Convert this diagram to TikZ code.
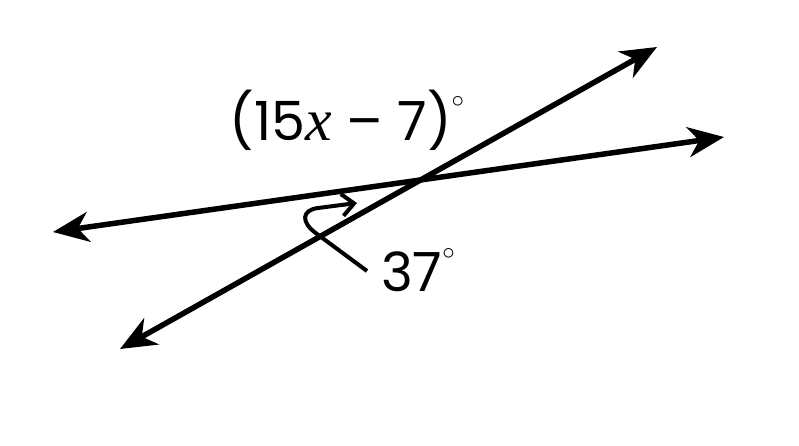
\documentclass[tikz,border=0pt]{standalone}
\usepackage{fontspec}
\setmainfont{Poppins}
\newfontfamily\serifit{Liberation Serif}
\usetikzlibrary{arrows.meta}
\newcommand{\degsym}{\raisebox{0.6em}{\fontsize{26}{26}\selectfont$\circ$}}
\tikzset{
  geoline/.style={line width=5.5pt, {Stealth[length=36pt,width=30pt,inset=11pt]}-{Stealth[length=36pt,width=30pt,inset=11pt]}},
  anglearrow/.style={line width=4pt, -{Straight Barb[length=12pt,width=22pt,line width=4pt]}, line join=round},
  lbl/.style={font=\fontsize{54}{60}\selectfont, inner sep=0pt}
}
\begin{document}
\begin{tikzpicture}[x=1pt,y=-1pt]
\useasboundingbox (0,0) rectangle (799,445);
\coordinate (a1) at (53,232);
\coordinate (a2) at (724,137);
\coordinate (b1) at (120,349);
\coordinate (b2) at (657,47);
\coordinate (c0) at (367,271);
\coordinate (c1) at (317,234);
\coordinate (c2) at (318,208);
\coordinate (c3) at (357,203);
\draw[geoline] (a1) -- (a2);
\draw[geoline] (b1) -- (b2);
\draw[anglearrow] (c0) -- (c1) .. controls (300,222) and (302,210) .. (c2) -- (c3);
\node[lbl] (top) at (347,120) {(15{\fontsize{60}{60}\serifit\itshape x}\ – 7)\degsym};
\node[lbl] (low) at (418,270) {37\degsym};
\end{tikzpicture}
\end{document}
